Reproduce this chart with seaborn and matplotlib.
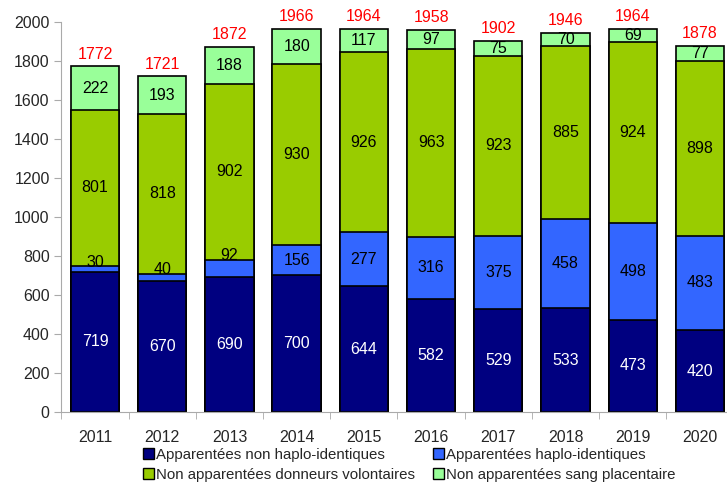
import matplotlib
matplotlib.use("Agg")
import matplotlib.pyplot as plt
import seaborn as sns
import numpy as np
from matplotlib.patches import Patch

# data
years = ["2011", "2012", "2013", "2014", "2015", "2016", "2017", "2018", "2019", "2020"]
non_haplo = [719, 670, 690, 700, 644, 582, 529, 533, 473, 420]
haplo = [30, 40, 92, 156, 277, 316, 375, 458, 498, 483]
volontaires = [801, 818, 902, 930, 926, 963, 923, 885, 924, 898]
placentaire = [222, 193, 188, 180, 117, 97, 75, 70, 69, 77]
totals = [1772, 1721, 1872, 1966, 1964, 1958, 1902, 1946, 1964, 1878]

labels = ["Apparentées non haplo-identiques", "Apparentées haplo-identiques",
          "Non apparentées donneurs volontaires", "Non apparentées sang placentaire"]
colors = ["#000080", "#3366FF", "#99CC00", "#99FF99"]
text_colors = ["white", "black", "black", "black"]

sns.set_style("white")
plt.rcParams["font.family"] = ["Liberation Sans", "DejaVu Sans"]

layers = [non_haplo, haplo, volontaires, placentaire]
cum = np.cumsum(np.array(layers), axis=0)

fig = plt.figure(figsize=(7.27, 4.83), dpi=100)
ax = fig.add_axes([0.0845, 0.147, 0.9245, 0.8075])

# stacked bars: draw cumulative heights from top layer down
for i in range(3, -1, -1):
    sns.barplot(x=years, y=cum[i], color=colors[i], saturation=1, width=0.72,
                edgecolor="black", linewidth=1.2, ax=ax)

# segment labels (tiny segments get their label pushed to the top edge)
for i in range(4):
    base = cum[i] - np.array(layers[i])
    for j, v in enumerate(layers[i]):
        y = base[j] + v / 2
        if i == 1 and v < 100:
            y = cum[i][j] + 20
        ax.text(j, y, str(v), ha="center", va="center",
                fontsize=11.5, color=text_colors[i])

# totals in red
for j, t in enumerate(totals):
    ax.text(j, t + 25, str(t), ha="center", va="bottom", fontsize=11.5, color="red")

ax.set_ylim(0, 2000)
ax.set_xlim(-0.5, 9.5)
ax.set_yticks(range(0, 2001, 200))
ax.set_xticks(range(10))
ax.set_xticklabels(years)
ax.set_xticks(np.arange(-0.5, 10, 1), minor=True)
ax.tick_params(axis="x", which="major", length=0, labelsize=11.5, pad=13)
ax.tick_params(axis="x", which="minor", length=5, color="#aaaaaa", bottom=True)
ax.tick_params(axis="y", length=5, color="#aaaaaa", labelsize=11.5, left=True)
ax.set_xlabel("")
ax.set_ylabel("")
sns.despine(ax=ax)
for s in ["left", "bottom"]:
    ax.spines[s].set_color("#aaaaaa")

# legend filled row by row like the original
order = [0, 2, 1, 3]
handles = [Patch(facecolor=colors[k], edgecolor="black", linewidth=1) for k in order]
fig.legend(handles, [labels[k] for k in order], ncol=2, loc="upper center",
           bbox_to_anchor=(0.563, 0.088), frameon=False, fontsize=10.8,
           handlelength=0.7, handleheight=0.7, handletextpad=0.15,
           columnspacing=1.2, labelspacing=0.4, borderpad=0)

fig.savefig("out.png", dpi=100)
